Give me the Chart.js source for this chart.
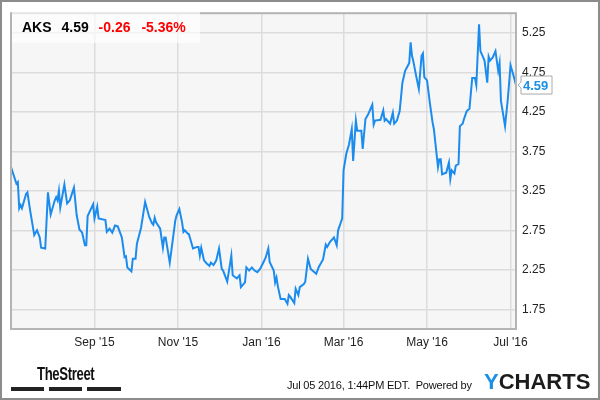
<!DOCTYPE html>
<html>
<head>
<meta charset="utf-8">
<script src="https://cdn.jsdelivr.net/npm/chart.js@4/dist/chart.umd.min.js"></script>
<style>
  html, body { margin: 0; padding: 0; background: #fff; }
  #wrap { position: relative; width: 600px; height: 400px; overflow: hidden; font-family: Arial, "Liberation Sans", sans-serif; }
  #chart { position: absolute; left: 0; top: 0; }
  #frame { position: absolute; left: 0; top: 0; width: 600px; height: 400px; box-sizing: border-box; border: 2px solid #8c8c8c; pointer-events: none; }
  #head { position: absolute; left: 12px; top: 12px; width: 178px; height: 31px; padding-left: 10px; background: rgba(255,255,255,0.65);
          font: bold 14px Arial, "Liberation Sans", sans-serif; line-height: 31px; white-space: nowrap; }
  #head span { margin-right: 6px; }
  #head .neg { color: #f00; margin-right: 7px; }
  #street { position: absolute; left: 37px; top: 363px; font: bold 19px "Liberation Sans Narrow", "Arial Narrow", sans-serif; color: #111;
            letter-spacing: -0.5px; transform: scaleX(0.69); transform-origin: left top; }
  .bar { position: absolute; top: 387px; height: 4px; background: #222; }
  #stamp { position: absolute; left: 287px; top: 379px; font: 11px Arial, "Liberation Sans", sans-serif; color: #111; white-space: nowrap; letter-spacing: -0.2px; }
  #ych { position: absolute; left: 484px; top: 369px; font: bold 22px Arial, "Liberation Sans", sans-serif; color: #1c1c1c; letter-spacing: 0px; }
  #ych b { color: #1a8fe6; }
</style>
</head>
<body>
<div id="wrap">
  <canvas id="chart" width="600" height="400"></canvas>
  <div id="head"><span>AKS</span> <span>4.59</span> <span class="neg">-0.26</span> <span class="neg">-5.36%</span></div>
  <div id="street">TheStreet</div>
  <div class="bar" style="left:11px;width:33px"></div>
  <div class="bar" style="left:49px;width:33px"></div>
  <div class="bar" style="left:87px;width:34px"></div>
  <div id="stamp">Jul 05 2016, 1:44PM EDT.&nbsp; Powered by</div>
  <div id="ych"><b>Y</b>CHARTS</div>
  <div id="frame"></div>
</div>
<script>
// days counted from 2015-07-01, closing prices
const days = [
  1, 5, 6, 7, 8, 9, 12, 13, 15, 18,
  20, 22, 23, 26, 28, 30, 33, 34, 35, 36,
  37, 40, 42, 44, 47, 49, 51, 53, 55, 56,
  57, 61, 62, 64, 65, 70, 71, 73, 75, 77,
  79, 82, 84, 85, 86, 89, 90, 92, 93, 96,
  99, 102, 104, 105, 106, 107, 110, 112, 113, 114,
  117, 119, 121, 122, 124, 126, 127, 128, 130, 131,
  132, 134, 137, 138, 139, 140, 142, 144, 146, 147,
  149, 151, 153, 155, 156, 159, 162, 163, 166, 168,
  169, 172, 173, 175, 177, 179, 181, 183, 185, 187,
  189, 190, 193, 194, 195, 196, 198, 201, 203, 204,
  205, 208, 209, 211, 212, 215, 216, 218, 220, 224,
  226, 229, 231, 232, 234, 237, 239, 240, 243, 244,
  246, 248, 250, 251, 253, 254, 257, 258, 260, 262,
  265, 266, 267, 271, 273, 274, 275, 278, 280, 281,
  283, 285, 287, 289, 292, 293, 294, 295, 297, 299,
  301, 302, 303, 305, 307, 309, 310, 313, 314, 315,
  316, 319, 321, 322, 323, 325, 326, 328, 329, 331,
  332, 334, 336, 338, 340, 341, 343, 344, 346, 347,
  349, 350, 351, 353, 355, 357, 358, 359, 362, 364,
  366, 368, 370
];
const prices = [
  3.55, 3.34, 3.36, 3.03, 3.07, 3.03, 3.21, 3.23, 3.00, 2.69,
  2.75, 2.66, 2.53, 2.52, 3.23, 2.95, 3.13, 3.17, 3.13, 3.25,
  3.04, 3.33, 3.09, 3.13, 3.29, 2.94, 2.76, 2.72, 2.56, 2.56,
  2.93, 3.08, 2.90, 3.05, 2.90, 2.88, 2.73, 2.77, 2.72, 2.81,
  2.80, 2.66, 2.41, 2.42, 2.28, 2.23, 2.39, 2.39, 2.58, 2.78,
  3.11, 2.92, 2.84, 2.82, 2.91, 2.85, 2.77, 2.53, 2.66, 2.66,
  2.34, 2.60, 2.87, 2.94, 3.02, 2.85, 2.73, 2.75, 2.71, 2.70,
  2.64, 2.52, 2.54, 2.54, 2.43, 2.53, 2.37, 2.33, 2.30, 2.34,
  2.31, 2.37, 2.52, 2.26, 2.24, 2.10, 2.43, 2.18, 2.14, 2.18,
  2.03, 2.09, 2.28, 2.24, 2.28, 2.24, 2.22, 2.26, 2.33, 2.40,
  2.52, 2.35, 2.24, 2.09, 2.15, 2.04, 1.88, 1.88, 1.82, 1.93,
  1.91, 1.83, 2.01, 1.93, 2.03, 2.07, 2.10, 2.39, 2.26, 2.20,
  2.29, 2.38, 2.57, 2.54, 2.60, 2.66, 2.56, 2.75, 2.90, 3.51,
  3.72, 3.84, 4.03, 3.63, 4.14, 4.01, 4.01, 3.78, 4.16, 4.22,
  4.34, 4.09, 4.14, 4.15, 4.27, 4.14, 4.16, 4.10, 4.24, 4.10,
  4.14, 4.26, 4.62, 4.77, 4.87, 5.13, 4.96, 4.89, 4.71, 4.54,
  4.96, 4.99, 4.69, 4.65, 4.37, 4.12, 4.03, 3.55, 3.65, 3.65,
  3.46, 3.48, 3.61, 3.40, 3.51, 3.47, 3.57, 3.59, 4.07, 4.10,
  4.16, 4.26, 4.29, 4.68, 4.68, 4.59, 5.36, 5.02, 4.94, 4.90,
  4.62, 4.95, 4.90, 4.94, 5.02, 4.77, 4.87, 4.39, 4.07, 4.41,
  4.84, 4.72, 4.59
];
// month starts (days from 2015-07-01) and their labels
const monthDays = [62, 123, 184, 244, 305, 366];
const monthLabels = ["Sep '15", "Nov '15", "Jan '16", "Mar '16", "May '16", "Jul '16"];
const priceTicks = [1.75, 2.25, 2.75, 3.25, 3.75, 4.25, 4.75, 5.25];
const lastPrice = prices[prices.length - 1];

const points = days.map((d, i) => ({ x: d, y: prices[i] }));

// plot background + border, and the last price tag
const areaPlugin = {
  id: 'area',
  beforeDraw(chart) {
    const { ctx, chartArea: a } = chart;
    ctx.save();
    ctx.fillStyle = '#f6f6f6';
    ctx.fillRect(a.left, a.top, a.right - a.left, a.bottom - a.top);
    ctx.restore();
  },
  afterDraw(chart) {
    const { ctx, chartArea: a } = chart;
    ctx.save();
    ctx.strokeStyle = '#b4b4b4';
    ctx.lineWidth = 2;
    ctx.strokeRect(a.left, a.top, a.right - a.left, a.bottom - a.top);
    const y = chart.scales.y.getPixelForValue(lastPrice);
    const x0 = a.right + 2, bx = a.right + 5, bw = 31, bh = 18;
    ctx.fillStyle = '#fff';
    ctx.strokeStyle = '#aaa';
    ctx.lineWidth = 1;
    ctx.beginPath();
    ctx.moveTo(x0, y);
    ctx.lineTo(bx, y - 3);
    ctx.lineTo(bx, y - bh / 2);
    ctx.lineTo(bx + bw, y - bh / 2);
    ctx.lineTo(bx + bw, y + bh / 2);
    ctx.lineTo(bx, y + bh / 2);
    ctx.lineTo(bx, y + 3);
    ctx.closePath();
    ctx.fill();
    ctx.stroke();
    ctx.fillStyle = '#1a8fe6';
    ctx.font = 'bold 13px Arial, "Liberation Sans", sans-serif';
    ctx.textBaseline = 'middle';
    ctx.fillText(lastPrice.toFixed(2), bx + 2, y + 1);
    ctx.restore();
  }
};

new Chart(document.getElementById('chart'), {
  type: 'line',
  data: {
    datasets: [{
      data: points,
      borderColor: '#1b8ced',
      borderWidth: 2,
      pointRadius: 0,
      tension: 0,
      fill: false
    }]
  },
  options: {
    responsive: false,
    animation: false,
    layout: { padding: { left: 11, top: 12, right: 0, bottom: 0 } },
    plugins: { legend: { display: false }, tooltip: { enabled: false } },
    scales: {
      x: {
        type: 'linear',
        min: 1,
        max: 370,
        afterBuildTicks: s => { s.ticks = monthDays.map(v => ({ value: v })); },
        afterFit: s => { s.height = 71; },
        ticks: {
          color: '#222',
          font: { family: 'Arial, "Liberation Sans", sans-serif', size: 12 },
          padding: 6,
          maxRotation: 0,
          autoSkip: false,
          callback: v => monthLabels[monthDays.indexOf(v)]
        },
        grid: { color: '#dcdcdc', lineWidth: 1.5, drawTicks: false },
        border: { display: false }
      },
      y: {
        position: 'right',
        min: 1.5,
        max: 5.5,
        afterBuildTicks: s => { s.ticks = priceTicks.map(v => ({ value: v })); },
        afterFit: s => { s.width = 84; },
        ticks: {
          color: '#222',
          font: { family: 'Arial, "Liberation Sans", sans-serif', size: 12 },
          padding: 6,
          callback: v => v.toFixed(2)
        },
        grid: { color: '#dcdcdc', lineWidth: 1.5, drawTicks: false },
        border: { display: false }
      }
    }
  },
  plugins: [areaPlugin]
});
</script>
</body>
</html>
